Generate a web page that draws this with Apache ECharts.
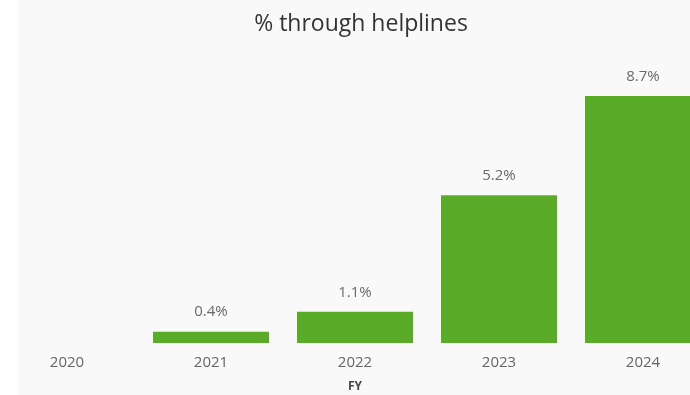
<!DOCTYPE html>
<html>
<head>
<meta charset="utf-8">
<script src="https://cdn.jsdelivr.net/npm/echarts@6/dist/echarts.min.js"></script>
<style>
html,body{margin:0;padding:0;background:#ffffff;}
#c{width:690px;height:395px;}
</style>
</head>
<body>
<div id="c"></div>
<script>
const categories = ['2020', '2021', '2022', '2023', '2024'];
const values = [null, 0.4, 1.1, 5.2, 8.7];
const titleText = '% through helplines';
const axisName = 'FY';

const chart = echarts.init(document.getElementById('c'), null, {renderer: 'canvas'});
const font = '"Open Sans", "Noto Sans", sans-serif';
chart.setOption({
  backgroundColor: '#f9f9f9',
  animation: false,
  graphic: [{type: 'rect', left: 0, top: 0, shape: {width: 18, height: 395}, style: {fill: '#ffffff'}, z: -10}],
  title: {
    text: titleText, left: 356, top: 8, textAlign: 'center',
    textStyle: {fontFamily: font, fontSize: 23, fontWeight: 'normal', color: '#333333'}
  },
  grid: {left: -5, width: 720, top: 59, bottom: 52, containLabel: false, outerBoundsMode: 'none'},
  xAxis: {
    type: 'category', data: categories,
    axisLine: {show: false}, axisTick: {show: false},
    axisLabel: {fontFamily: font, fontSize: 15, color: '#666666', margin: 12},
    name: axisName, nameLocation: 'middle', nameGap: 38,
    nameTextStyle: {fontFamily: font, fontSize: 12, fontWeight: 'bold', color: '#444444'}
  },
  yAxis: {type: 'value', min: 0, max: 10, show: false, splitLine: {show: false}},
  series: [{
    type: 'bar', data: values, barWidth: 116,
    itemStyle: {color: '#5aab27'},
    label: {
      show: true, position: 'top', distance: 12,
      formatter: p => p.value == null ? '' : p.value.toFixed(1) + '%',
      fontFamily: font, fontSize: 15, color: '#6a6a6a'
    }
  }]
});
</script>
</body>
</html>
